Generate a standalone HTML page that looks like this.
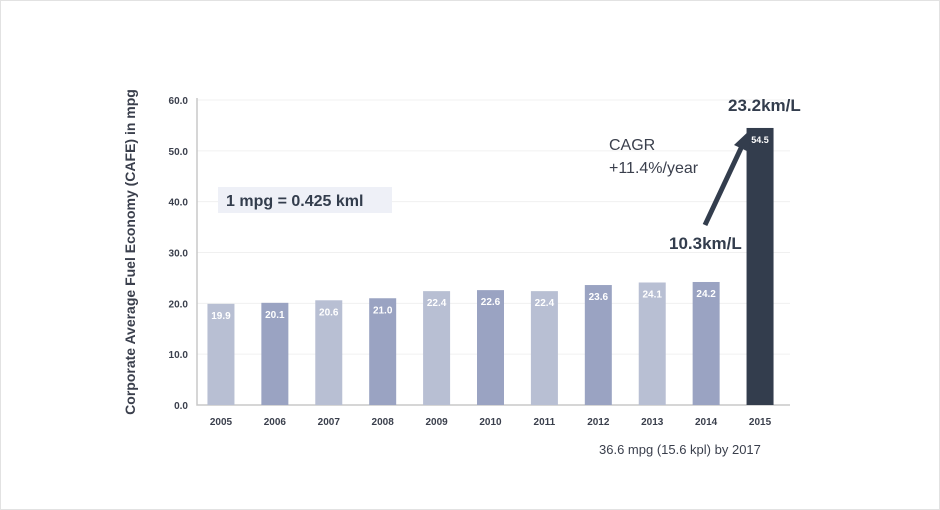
<!DOCTYPE html>
<html><head><meta charset="utf-8"><style>
body{margin:0;background:#fff;}
#wrap{position:relative;width:938px;height:508px;border:1px solid #e2e2e2;background:#fff;font-family:"Liberation Sans",sans-serif;}
</style></head><body>
<div id="wrap">
<svg id="chart" width="940" height="510" style="position:absolute;left:-1px;top:-1px"></svg>
</div>
<script>
const years=["2005","2006","2007","2008","2009","2010","2011","2012","2013","2014","2015"];
const values=[19.9,20.1,20.6,21.0,22.4,22.6,22.4,23.6,24.1,24.2,54.5];
const yTicks=[0,10,20,30,40,50,60];
const NS="http://www.w3.org/2000/svg";
const svg=document.getElementById('chart');
const x0=197,x1=790,yB=405,yT=100,yMax=60;
const yS=v=>yB-(v/yMax)*(yB-yT);
const step=(x1-x0)/years.length;
const xC=i=>x0+step*(i+0.5)-3;
function mk(t,a,p){const e=document.createElementNS(NS,t);for(const k in a)e.setAttribute(k,a[k]);(p||svg).appendChild(e);return e;}
yTicks.forEach(v=>{
 if(v>0){const g=mk('line',{x1:x0,x2:x1,y1:yS(v),y2:yS(v),stroke:'#f0f0f0','stroke-width':1});
 
 }
 const t=mk('text',{x:188,y:yS(v)+4,'text-anchor':'end','font-size':10,'font-weight':'bold',fill:'#3a3f4c'});
 t.textContent=v.toFixed(1);
 
 
});
const ax=mk('path',{d:`M${x0} ${yT-2}V${yB}H${x1}`,stroke:'#c8c8c8',fill:'none','stroke-width':1.5});


values.forEach((v,i)=>{
 const c=xC(i),w=27;
 const col=i===values.length-1?'#333d4d':(i%2===0?'#b8bfd3':'#9aa3c2');
 const r=mk('rect',{x:c-w/2,y:yS(v),width:w,height:yB-yS(v),fill:col});
 
 
 const l=mk('text',{x:c,y:yS(v)+15,'text-anchor':'middle','font-size':i===values.length-1?9:10,'font-weight':'bold',fill:'#fff'});
 l.textContent=v.toFixed(1);
 
 
 const xl=mk('text',{x:c,y:425,'text-anchor':'middle','font-size':10,'font-weight':'bold',fill:'#3a3f4c'});
 xl.textContent=years[i];
 
 
});
const yt=mk('text',{transform:'translate(135,252) rotate(-90)','text-anchor':'middle','font-size':14,'font-weight':'bold',fill:'#3a3f4c'});
yt.textContent='Corporate Average Fuel Economy (CAFE) in mpg';


const bx=mk('rect',{x:218,y:187,width:174,height:26,fill:'#eef0f7'});


const bt=mk('text',{x:226,y:206,'font-size':16,'font-weight':'bold',fill:'#333d4d'});
bt.textContent='1 mpg = 0.425 kml';


const ar=mk('line',{x1:705,y1:225,x2:742,y2:146,stroke:'#333d4d','stroke-width':5});


const ah=mk('polygon',{points:'751,129 734,145 749,152',fill:'#333d4d'});


[['23.2km/L',728,111,17,'bold','#333d4d','label-2015-kml'],['10.3km/L',669,249,17,'bold','#333d4d','label-2005-kml'],['CAGR',609,150,16,'normal','#3a3f4c','cagr-label'],['+11.4%/year',609,173,16,'normal','#3a3f4c','cagr-value'],['36.6 mpg (15.6 kpl) by 2017',599,454,13,'normal','#3a3f4c','footnote-2017']].forEach(a=>{
 const t=mk('text',{x:a[1],y:a[2],'font-size':a[3],'font-weight':a[4],fill:a[5]});
 t.textContent=a[0];
 
 
});
</script>
</body></html>
